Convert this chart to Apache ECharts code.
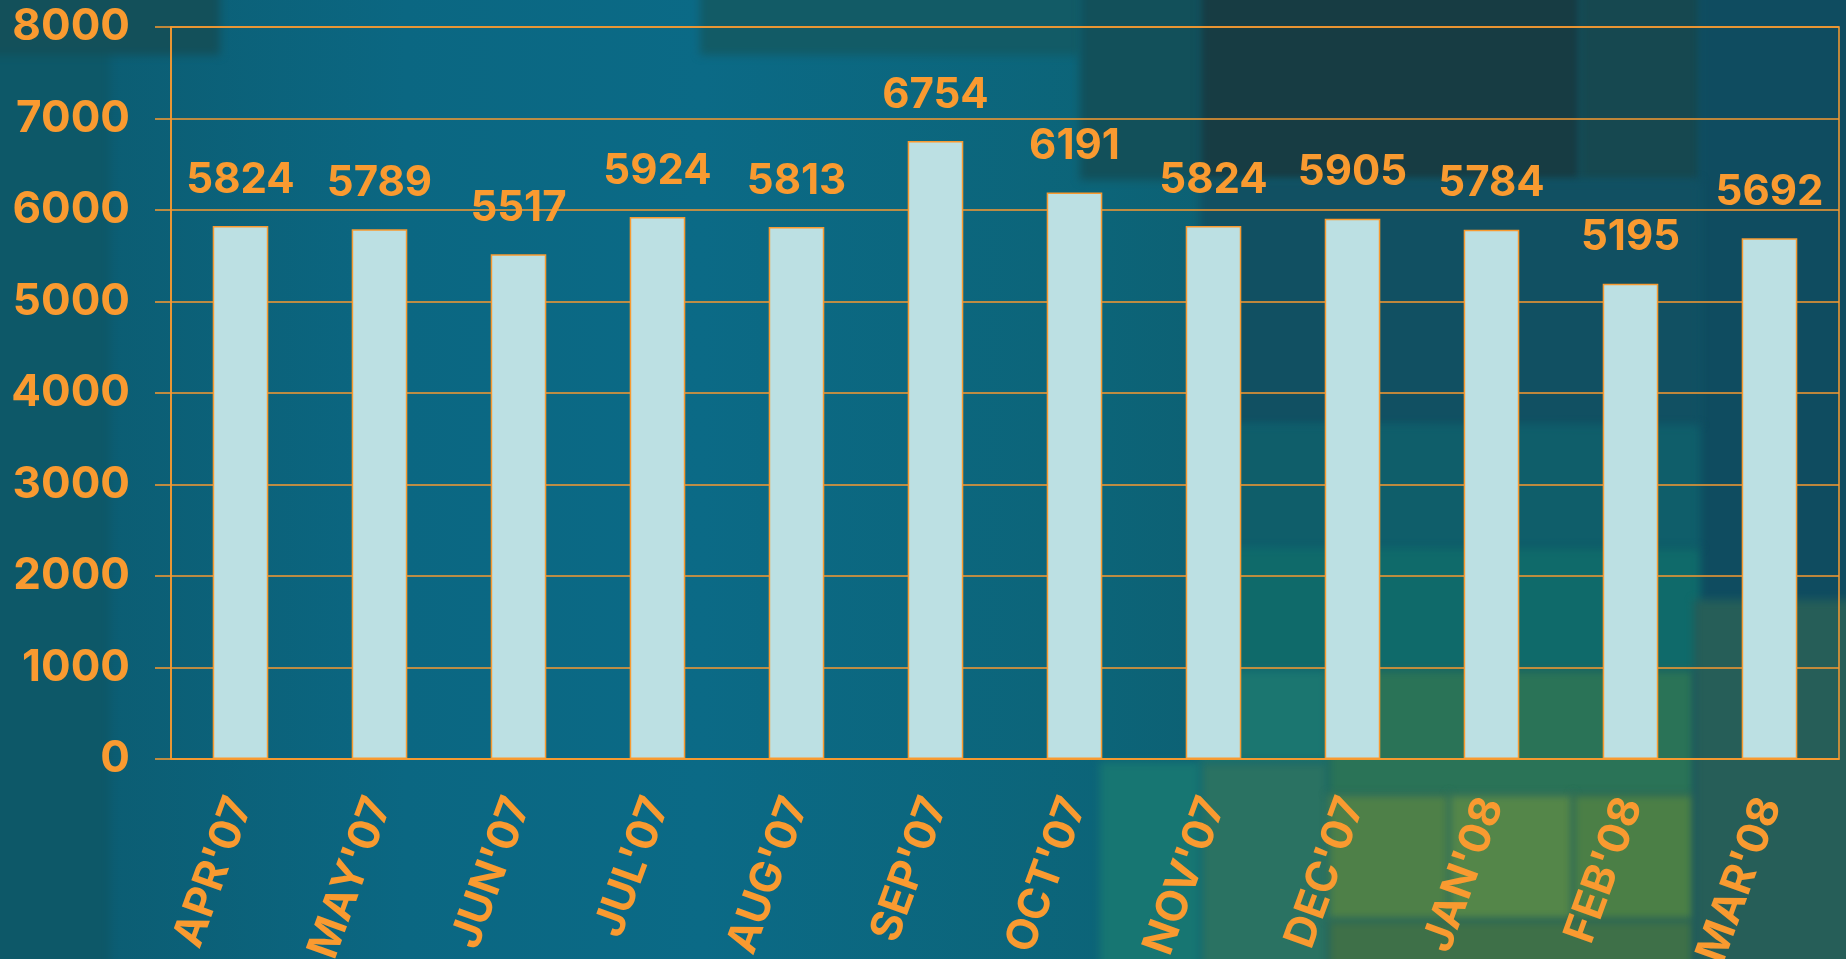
<!DOCTYPE html>
<html>
<head>
<meta charset="utf-8">
<script src="https://cdn.jsdelivr.net/npm/echarts@6/dist/echarts.min.js"></script>
<style>
  html, body { margin: 0; padding: 0; width: 1846px; height: 959px; overflow: hidden; }
  body {
    position: relative;
    background: linear-gradient(90deg, #0c5a6e 0%, #0b6782 22%, #0b6a86 38%, #0c6478 60%, #0f5868 80%, #0f4d62 100%);
  }
  #bg { position: absolute; left: 0; top: 0; width: 1846px; height: 959px; overflow: hidden; }
  #bg div { position: absolute; filter: blur(4px); }
  #chart { position: absolute; left: 0; top: 0; width: 1846px; height: 959px; }
</style>
</head>
<body>
<div id="bg">
  <div style="left:-10px;top:-10px;width:120px;height:980px;background:#0d5868"></div>
  <div style="left:-10px;top:-10px;width:230px;height:65px;background:#13505a"></div>
  <div style="left:700px;top:-10px;width:380px;height:65px;background:#125b66"></div>
  <div style="left:1080px;top:-10px;width:120px;height:190px;background:#12505a"></div>
  <div style="left:1200px;top:-10px;width:380px;height:190px;background:#173c43"></div>
  <div style="left:1580px;top:-10px;width:120px;height:190px;background:#164850"></div>
  <div style="left:1700px;top:-10px;width:160px;height:610px;background:#0f4c60"></div>
  <div style="left:1200px;top:180px;width:500px;height:245px;background:#115062"></div>
  <div style="left:1200px;top:425px;width:500px;height:123px;background:#0f5e6a"></div>
  <div style="left:1200px;top:548px;width:500px;height:122px;background:#0f6a6a"></div>
  <div style="left:1200px;top:670px;width:128px;height:92px;background:#1b7670"></div>
  <div style="left:1200px;top:762px;width:128px;height:210px;background:#2a7262"></div>
  <div style="left:1328px;top:670px;width:366px;height:124px;background:#2a7357"></div>
  <div style="left:1328px;top:794px;width:121px;height:126px;background:#4e8048"></div>
  <div style="left:1449px;top:794px;width:124px;height:126px;background:#548649"></div>
  <div style="left:1573px;top:794px;width:121px;height:126px;background:#4b7f46"></div>
  <div style="left:1328px;top:920px;width:366px;height:50px;background:#3e7048"></div>
  <div style="left:1694px;top:600px;width:160px;height:370px;background:#265e58"></div>
  <div style="left:1100px;top:762px;width:100px;height:210px;background:#177672"></div>
</div>
<div id="chart"></div>
<script>
const months = ["APR'07", "MAY'07", "JUN'07", "JUL'07", "AUG'07", "SEP'07",
                "OCT'07", "NOV'07", "DEC'07", "JAN'08", "FEB'08", "MAR'08"];
const sales = [5824, 5789, 5517, 5924, 5813, 6754, 6191, 5824, 5905, 5784, 5195, 5692];
const yTicks = [0, 1000, 2000, 3000, 4000, 5000, 6000, 7000, 8000];

const orange = "#F99A30";
const font = "Inter, 'Liberation Sans', Arial, sans-serif";

const chart = echarts.init(document.getElementById("chart"));

chart.setOption({
  animation: false,
  backgroundColor: "transparent",
  grid: {
    left: 171, right: 7, top: 27, bottom: 200,
    outerBoundsMode: "none",
    show: true, borderColor: orange, borderWidth: 1.5
  },
  xAxis: {
    type: "category",
    data: months,
    axisLine: { lineStyle: { color: orange, width: 1.5 } },
    axisTick: { length: 13, interval: 0, lineStyle: { color: orange, width: 1.5 } },
    axisLabel: {
      interval: 0,
      rotate: 70,
      margin: 40,
      color: orange,
      fontFamily: font,
      fontWeight: "bold",
      fontSize: 43
    }
  },
  yAxis: {
    type: "value",
    min: yTicks[0],
    max: yTicks[yTicks.length - 1],
    interval: 1000,
    axisLine: { show: true, lineStyle: { color: orange, width: 1.5 } },
    axisTick: { show: true, length: 16, lineStyle: { color: orange, width: 1.5 } },
    splitLine: { lineStyle: { color: orange, width: 1.5 } },
    axisLabel: {
      margin: 41,
      color: orange,
      fontFamily: font,
      fontWeight: "bold",
      fontSize: 44,
      formatter: v => String(v)
    }
  },
  series: [{
    type: "bar",
    data: sales,
    barWidth: "40%",
    itemStyle: { color: "#BCE0E3", borderColor: orange, borderWidth: 1.5 },
    label: {
      show: true,
      position: "top",
      distance: 25,
      color: orange,
      fontFamily: font,
      fontWeight: "bold",
      fontSize: 42
    }
  }]
});
</script>
</body>
</html>
